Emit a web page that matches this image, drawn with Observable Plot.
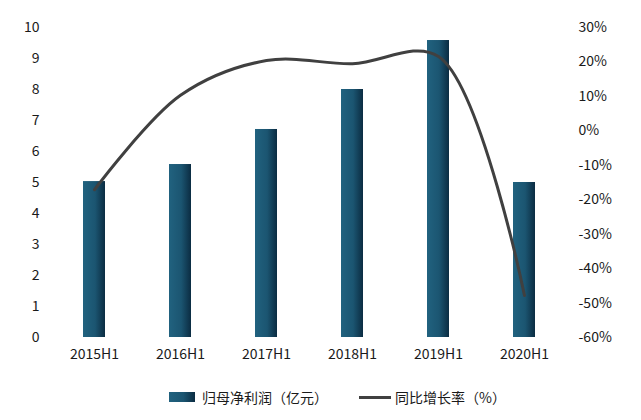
<!DOCTYPE html>
<html>
<head>
<meta charset="utf-8">
<script src="https://cdn.jsdelivr.net/npm/d3@7"></script>
<script src="https://cdn.jsdelivr.net/npm/@observablehq/plot@0.6"></script>
<style>
  html, body { margin: 0; padding: 0; background: #fff; }
  #wrap { position: relative; width: 641px; height: 420px; font-family: "Noto Sans CJK SC", sans-serif; }
  #legend { position: absolute; left: 0; top: 375px; width: 641px; height: 45px; font-size: 14px; color: #1a1a1a; }
  .sw-bar { position: absolute; left: 169px; top: 17px; width: 26px; height: 10px; background: linear-gradient(to right, #21627f, #1b5571 55%, #0b2c42); }
  .sw-line { position: absolute; left: 359px; top: 21px; width: 32px; height: 3px; background: #404040; }
  .lt { position: absolute; top: 12px; line-height: 20px; white-space: nowrap; }
</style>
</head>
<body>
<div id="wrap">
  <div id="chart"></div>
  <div id="legend">
    <div class="sw-bar"></div><div class="lt" style="left:202px">归母净利润（亿元）</div>
    <div class="sw-line"></div><div class="lt" style="left:395px">同比增长率（%）</div>
  </div>
</div>
<script>
const categories = ["2015H1", "2016H1", "2017H1", "2018H1", "2019H1", "2020H1"];
const profit = [5.03, 5.58, 6.71, 8.0, 9.58, 5.0];
const growth = [-17.1, 10.3, 20.4, 19.5, 21.6, -47.8];
const leftTicks = [0, 1, 2, 3, 4, 5, 6, 7, 8, 9, 10];
const rightTicks = [-60, -50, -40, -30, -20, -10, 0, 10, 20, 30];

const rightMin = -60, rightMax = 30, leftMax = 10;
const toLeft = p => (p - rightMin) / (rightMax - rightMin) * leftMax;
const fromLeft = v => Math.round(v / leftMax * (rightMax - rightMin) + rightMin);

const data = categories.map((c, i) => ({cat: c, profit: profit[i], growth: growth[i]}));

const defs = () => {
  const d = d3.create("svg:defs");
  const g = d.append("linearGradient").attr("id", "barGrad").attr("x1", "0").attr("x2", "1").attr("y1", "0").attr("y2", "0");
  g.append("stop").attr("offset", "0%").attr("stop-color", "#21627f");
  g.append("stop").attr("offset", "55%").attr("stop-color", "#1b5571");
  g.append("stop").attr("offset", "100%").attr("stop-color", "#0b2c42");
  return d.node();
};

const chart = Plot.plot({
  width: 641,
  height: 375,
  marginLeft: 49,
  marginRight: 72,
  marginTop: 27,
  marginBottom: 38,
  style: {fontFamily: "'Noto Sans CJK SC', sans-serif", fontSize: "14px", color: "#1a1a1a", background: "#fff"},
  x: {domain: categories, paddingInner: 0.746, paddingOuter: 0.373, label: null},
  y: {domain: [0, leftMax], label: null},
  marks: [
    defs,
    Plot.barY(data, {x: "cat", y: "profit", fill: "url(#barGrad)"}),
    Plot.line(data, {x: "cat", y: d => toLeft(d.growth), stroke: "#404040", strokeWidth: 3, curve: "catmull-rom"}),
    Plot.axisX({tickSize: 0, tickPadding: 12, label: null}),
    Plot.axisY(leftTicks, {anchor: "left", tickSize: 0, tickPadding: 10, label: null, tickFormat: d => String(d)}),
    Plot.axisY(rightTicks.map(toLeft), {anchor: "right", tickSize: 0, tickPadding: 9, label: null, tickFormat: v => fromLeft(v) + "%"})
  ]
});
document.getElementById("chart").appendChild(chart);
</script>
</body>
</html>
